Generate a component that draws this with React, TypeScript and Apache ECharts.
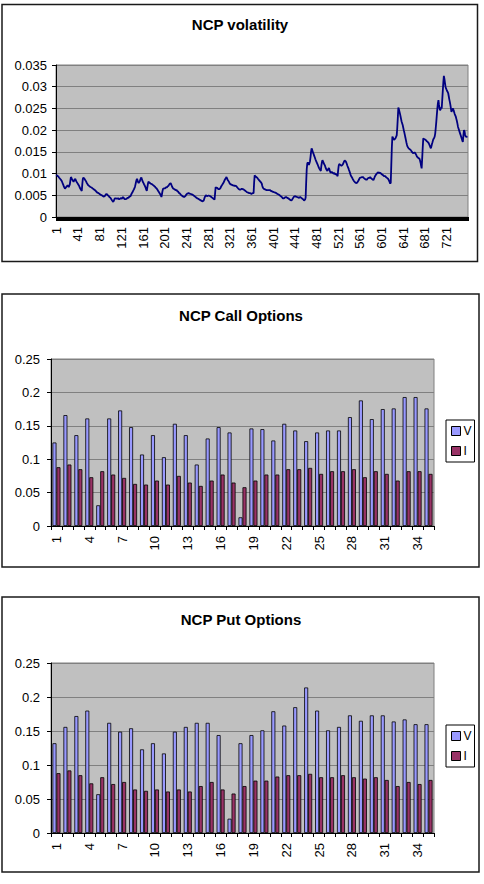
import React, { useEffect, useRef } from "react";
import * as echarts from "echarts";

const FONT = "'Liberation Sans', Arial, sans-serif";

// NCP volatility, in units of 0.0001
const volatilityE4 = [
  97,96,95,94,93,91,90,88,87,85,83,80,77,74,70,68,65,67,68,70,
  71,73,72,69,68,75,84,92,90,87,85,83,81,84,86,88,85,82,80,78,
  76,75,72,69,66,64,62,60,75,88,91,90,88,86,85,82,79,77,75,73,
  72,71,70,69,68,68,67,66,65,64,63,62,61,60,58,57,56,56,55,54,
  53,52,51,51,50,49,48,48,47,47,49,51,53,54,52,50,49,48,46,45,
  44,42,40,38,37,35,37,40,43,42,43,44,42,41,43,42,41,40,42,44,
  43,42,44,46,45,43,41,42,41,40,42,44,45,44,45,47,46,48,51,54,
  56,58,61,63,66,69,74,80,85,88,84,80,78,77,82,86,89,91,87,83,
  80,78,75,73,70,67,63,60,68,76,81,80,79,78,77,77,76,75,74,73,
  72,71,70,68,67,66,64,62,60,58,56,54,52,49,46,53,60,65,64,66,
  67,66,68,67,68,70,69,72,74,76,77,78,75,72,69,67,65,66,64,63,
  62,63,62,60,59,58,56,55,54,53,51,50,49,48,47,47,46,46,48,50,
  52,53,54,55,55,54,54,53,53,52,52,51,51,50,49,48,47,46,45,44,
  43,43,42,41,40,39,39,38,37,36,36,35,38,42,46,48,50,49,48,49,
  49,48,49,50,48,47,46,45,44,43,42,41,40,55,69,67,66,67,66,64,
  65,64,65,67,70,72,74,76,77,80,83,86,88,90,92,89,86,84,82,80,
  77,76,75,74,74,73,73,72,72,71,72,71,71,70,68,67,65,64,63,62,
  63,64,65,65,64,65,63,62,61,60,59,58,57,56,56,55,55,54,55,54,
  53,54,55,54,55,80,96,94,93,92,91,90,88,87,85,84,82,81,79,77,
  72,68,66,65,64,63,63,62,62,61,62,63,62,61,62,61,60,59,59,58,
  58,57,57,56,56,55,55,54,53,53,52,51,50,49,48,47,46,45,43,42,
  43,44,45,46,46,45,44,43,43,42,41,40,39,39,38,40,42,44,46,47,
  48,48,47,46,46,46,45,45,44,45,46,45,44,43,42,41,40,38,37,40,
  45,80,110,123,126,122,120,124,128,138,150,158,155,151,147,144,140,137,133,130,
  127,124,121,118,115,112,110,108,106,118,126,131,128,125,122,120,117,113,110,108,
  106,109,111,113,109,105,102,103,104,103,102,100,99,101,100,98,97,99,96,94,
  108,118,122,121,120,119,118,118,120,122,125,128,130,131,128,125,122,118,115,112,
  108,105,101,97,94,92,90,87,85,83,82,80,79,78,77,79,81,83,85,88,
  90,89,91,90,92,91,92,90,89,88,87,86,85,86,88,89,90,91,90,92,
  91,89,88,87,86,85,88,91,94,96,98,99,101,102,103,101,100,102,101,100,
  99,98,97,96,95,94,93,94,92,91,90,89,88,86,83,80,77,79,120,160,
  185,183,180,178,177,180,182,185,188,205,228,252,248,243,238,232,226,220,216,212,
  206,200,195,189,183,177,171,166,162,160,158,157,156,155,154,152,150,149,147,146,
  148,147,148,145,143,140,138,137,136,135,134,130,125,118,112,135,160,181,180,179,
  178,178,177,175,174,173,172,170,167,164,161,158,163,168,172,177,180,182,185,192,
  205,219,235,250,262,269,258,250,246,248,252,250,270,290,310,325,318,309,300,296,
  293,290,288,285,278,271,265,258,250,242,246,248,250,245,241,237,234,231,226,221,
  215,208,204,200,196,192,188,184,180,176,173,188,200,198,190,186,185,184,186,187,
];
const volatility = volatilityE4.map((v) => v / 10000);
const volCategories = volatility.map((_, i) => String(i + 1));

// NCP Call Options
const callV = [0.125,0.166,0.136,0.161,0.031,0.161,0.173,0.148,0.107,0.136,0.103,0.153,0.136,0.092,0.131,0.148,0.140,0.013,0.146,0.145,0.128,0.153,0.143,0.127,0.140,0.143,0.143,0.163,0.188,0.160,0.175,0.176,0.193,0.193,0.176];
const callI = [0.088,0.092,0.085,0.073,0.082,0.077,0.072,0.063,0.062,0.068,0.062,0.075,0.065,0.060,0.068,0.077,0.065,0.058,0.068,0.077,0.077,0.085,0.085,0.087,0.078,0.082,0.082,0.085,0.073,0.082,0.078,0.068,0.082,0.082,0.078];

// NCP Put Options
const putV = [0.132,0.156,0.172,0.180,0.057,0.162,0.149,0.154,0.123,0.132,0.117,0.149,0.156,0.162,0.162,0.144,0.021,0.132,0.144,0.151,0.179,0.158,0.185,0.214,0.180,0.151,0.156,0.173,0.165,0.173,0.173,0.164,0.167,0.160,0.160];
const putI = [0.088,0.092,0.085,0.073,0.082,0.072,0.075,0.064,0.062,0.064,0.061,0.064,0.061,0.069,0.075,0.064,0.058,0.069,0.077,0.077,0.083,0.085,0.085,0.087,0.082,0.082,0.085,0.082,0.080,0.082,0.078,0.069,0.075,0.072,0.078];
const optCategories = callV.map((_, i) => String(i + 1));

const titles = ["NCP volatility", "NCP Call Options", "NCP Put Options"];
const legendNames = ["V", "I"];

const V_COLOR = "#9999FF";
const I_COLOR = "#993366";
const PLOT_BG = "#C0C0C0";
const GRID_LINE = "#808080";

function xAxisFor(gridIndex: number, data: string[], labelInterval: number) {
  return {
    type: "category",
    gridIndex,
    data,
    boundaryGap: true,
    axisLine: { show: true, lineStyle: { color: "#000", width: 1 } },
    axisTick: { show: true, interval: 0, length: 4, lineStyle: { color: "#000", width: 1 } },
    axisLabel: {
      interval: labelInterval,
      rotate: 90,
      margin: 10,
      fontSize: 13,
      color: "#000",
      fontFamily: FONT,
    },
    splitLine: { show: false },
  };
}

function yAxisFor(gridIndex: number, max: number, interval: number, margin: number) {
  return {
    type: "value",
    gridIndex,
    min: 0,
    max,
    interval,
    axisLine: { show: true, lineStyle: { color: "#000", width: 1 } },
    axisTick: { show: true, length: 4, lineStyle: { color: "#000" } },
    axisLabel: { margin, fontSize: 13, color: "#000", fontFamily: FONT },
    splitLine: { show: true, lineStyle: { color: GRID_LINE, width: 1 } },
  };
}

function barSeries(name: string, data: number[], idx: number, color: string) {
  return {
    name,
    type: "bar",
    xAxisIndex: idx,
    yAxisIndex: idx,
    data,
    barWidth: 4,
    barGap: "0%",
    itemStyle: { color, borderColor: "#000", borderWidth: 0.8 },
  };
}

function legendAt(top: number) {
  return {
    data: legendNames,
    orient: "vertical",
    left: 446,
    top,
    padding: [5, 3, 5, 5],
    itemGap: 8,
    itemWidth: 9,
    itemHeight: 9,
    icon: "rect",
    backgroundColor: "#fff",
    borderColor: "#000",
    borderWidth: 1,
    borderRadius: 0,
    itemStyle: { borderColor: "#000", borderWidth: 1 },
    textStyle: { fontSize: 12, color: "#000", fontFamily: FONT, padding: [0, 0, 0, -2] },
  };
}

function boxRect(x: number, y: number, w: number, h: number) {
  return {
    type: "rect",
    shape: { x, y, width: w, height: h },
    style: { fill: "none", stroke: "#1a1a1a", lineWidth: 1.5 },
    silent: true,
    z: 0,
  };
}

function titleText(text: string, x: number, y: number) {
  return {
    type: "text",
    x,
    y,
    style: {
      text,
      fill: "#000",
      font: `bold 15px ${FONT}`,
      textAlign: "center",
      textVerticalAlign: "middle",
    },
    silent: true,
  };
}

export default function App() {
  const ref = useRef<HTMLDivElement>(null);
  useEffect(() => {
    if (!ref.current) return;
    const chart = echarts.init(ref.current, null, { renderer: "svg" });
    const option: any = {
      animation: false,
      backgroundColor: "#fff",
      textStyle: { fontFamily: FONT },
      grid: [
        { left: 56, top: 65, width: 412, height: 152, show: true, backgroundColor: PLOT_BG, borderColor: GRID_LINE, borderWidth: 1 },
        { left: 51, top: 359, width: 383, height: 167, show: true, backgroundColor: PLOT_BG, borderColor: GRID_LINE, borderWidth: 1 },
        { left: 51, top: 663, width: 383, height: 170, show: true, backgroundColor: PLOT_BG, borderColor: GRID_LINE, borderWidth: 1 },
      ],
      xAxis: [
        xAxisFor(0, volCategories, 39),
        xAxisFor(1, optCategories, 2),
        xAxisFor(2, optCategories, 2),
      ],
      yAxis: [
        yAxisFor(0, 0.035, 0.005, 9),
        yAxisFor(1, 0.25, 0.05, 11),
        yAxisFor(2, 0.25, 0.05, 11),
      ],
      legend: [legendAt(420), legendAt(725)],
      series: [
        {
          name: "volatility",
          type: "line",
          xAxisIndex: 0,
          yAxisIndex: 0,
          data: volatility,
          showSymbol: false,
          symbol: "none",
          lineStyle: { color: "#000080", width: 1.8 },
        },
        barSeries("V", callV, 1, V_COLOR),
        barSeries("I", callI, 1, I_COLOR),
        barSeries("V", putV, 2, V_COLOR),
        barSeries("I", putI, 2, I_COLOR),
      ],
      graphic: [
        boxRect(2, 4.5, 475.5, 257),
        boxRect(2, 294, 477, 273),
        boxRect(2, 597, 477, 275),
        titleText(titles[0], 240, 24),
        titleText(titles[1], 241, 315),
        titleText(titles[2], 241, 619),
      ],
    };
    chart.setOption(option);
    return () => chart.dispose();
  }, []);
  return (
    <div
      ref={ref}
      style={{ position: "absolute", left: 0, top: 0, width: 484, height: 884, background: "#fff" }}
    />
  );
}
